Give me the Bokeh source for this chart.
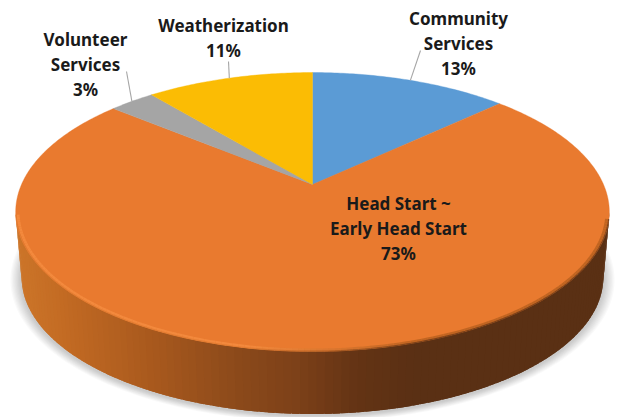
import numpy as np
from bokeh.plotting import figure
from bokeh.embed import file_html
from bokeh.resources import INLINE
from bokeh.core.properties import value

# ---- data ----
categories = ["Community\nServices", "Head Start ~\nEarly Head Start", "Volunteer\nServices", "Weatherization"]
shares = [13, 73, 3, 11]
percent_labels = ["13%", "73%", "3%", "11%"]
colors = ["#5B9BD5", "#E97A2F", "#A5A5A5", "#FBBC04"]

# ---- projection of the tilted disc (page pixels) ----
W, H = 617, 417
CX, CY = 312.0, 184.0
A, B, K = 291.0, 134.0, 0.197
BOTTOM_SCALE, BOTTOM_CY = 0.98, 250.0


def project(theta, scale=1.0, cy=CY):
    u, v = np.sin(theta), -np.cos(theta)
    d = 1 - K * v
    return CX + scale * A * u / d, cy + scale * B * v / d


p = figure(width=W, height=H, x_range=(0, W), y_range=(H, 0), output_backend="svg",
           toolbar_location=None, min_border=0, outline_line_color=None,
           background_fill_color="white", border_fill_color=None)
p.margin = (0, 0, 0, 0)
p.axis.visible = False
p.grid.visible = False

TWO_PI = 2 * np.pi
front_start = np.arccos(-K)
front_end = TWO_PI - front_start

# soft shadow under the disc
ring = np.linspace(0, TWO_PI, 240)
for i in range(9, 0, -1):
    sx, sy = project(ring, BOTTOM_SCALE + i * 0.0042, BOTTOM_CY + 1.5)
    p.patch(sx, sy, fill_color="#000000", fill_alpha=0.022, line_color=None)

# side wall: overlapping strips shaded along x
gx = [14, 60, 150, 240, 300, 360, 420, 620]
gr = [205, 196, 170, 140, 125, 100, 90, 90]
gg = [118, 108, 90, 74, 65, 52, 48, 48]
gb = [42, 36, 30, 27, 25, 21, 20, 20]
edges = np.linspace(front_start, front_end, 120)
xs, ys, cols = [], [], []
for j in range(len(edges) - 1, 0, -1):
    t = edges[j - 1:j + 1]
    t = np.array([t[0] - 0.02 if j > 1 else t[0], t[1]])
    x1, y1 = project(t)
    x2, y2 = project(t[::-1], BOTTOM_SCALE, BOTTOM_CY)
    xs.append(np.concatenate([x1, x2]).tolist())
    ys.append(np.concatenate([y1, y2]).tolist())
    mx = x1.mean()
    cols.append("#%02x%02x%02x" % (int(np.interp(mx, gx, gr)), int(np.interp(mx, gx, gg)), int(np.interp(mx, gx, gb))))
p.patches(xs, ys, fill_color=cols, line_color=None)

# top face: one wedge per share
fractions = np.array(shares, dtype=float) / sum(shares)
ends = np.cumsum(fractions) * TWO_PI
starts = ends - fractions * TWO_PI
mids = (starts + ends) / 2
for s, e, c in zip(starts, ends, colors):
    t = np.linspace(s, e, max(int((e - s) * 80), 4))
    x, y = project(t)
    p.patch(np.r_[CX, x], np.r_[CY, y], fill_color=c, line_color=c, line_width=0.4)

# bevel on the front rim
bt = np.linspace(front_start + 0.05, front_end - 0.02, 160)
for scale, width, hi, lo in [(0.992, 3.0, "#F58C3F", "#B9601F"), (0.999, 1.2, "#E07A2F", "#6E3A16")]:
    bx, by = project(bt, scale)
    segx, segy, segc = [], [], []
    for j in range(len(bt) - 1):
        segx.append(bx[j:j + 2].tolist())
        segy.append(by[j:j + 2].tolist())
        f = np.clip((segx[-1][0] - 250) / 170, 0, 1)
        h = [int(hi[k:k + 2], 16) for k in (1, 3, 5)]
        l = [int(lo[k:k + 2], 16) for k in (1, 3, 5)]
        segc.append("#%02x%02x%02x" % tuple(int(h[k] + (l[k] - h[k]) * f) for k in range(3)))
    p.multi_line(segx, segy, line_color=segc, line_width=width, line_alpha=0.85)

# leader lines, from the rim at each slice's middle
leader_ends = {0: (420, 50), 2: (126, 71), 3: (228, 61)}
for i, (lx, ly) in leader_ends.items():
    ex, ey = project(mids[i], 1.0)
    p.line([lx, float(ex)], [ly, float(ey)], line_color="#A6A6A6", line_width=1.1)

# labels
label_x = [458, 398, 85, 223]
label_y = [43, 228, 64, 37.5]
texts = [f"{c}\n{v}" for c, v in zip(categories, percent_labels)]
p.text(label_x, label_y, text=texts, text_align="center", text_baseline="middle",
       text_font=value("Noto Sans"), text_font_style="bold", text_font_size="17px",
       text_color="#1a1a1a", text_line_height=1.1)

open("out.html", "w").write(file_html(p, INLINE))
